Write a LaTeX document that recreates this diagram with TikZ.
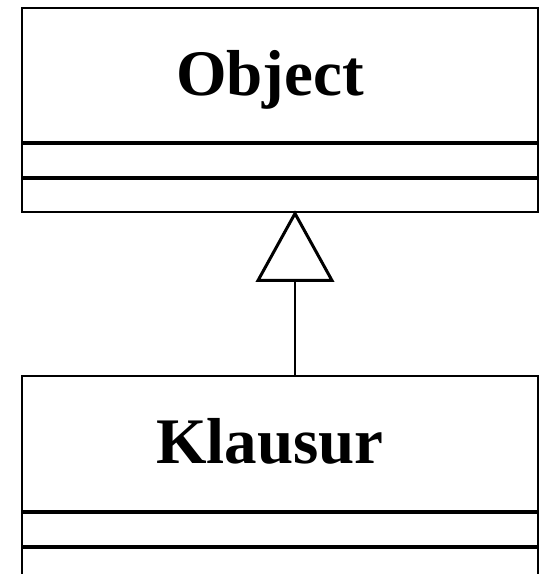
\documentclass[tikz,border=0pt]{standalone}
\usepackage{fontspec}
\setmainfont{Liberation Serif}
\tikzset{
  umlpart/.style={draw, line width=2.2pt, rectangle, inner sep=0pt, minimum width=516pt},
  classname/.style={font=\fontsize{65}{70}\selectfont\bfseries, inner sep=0pt, anchor=base},
  inherits/.style={line width=2.2pt},
  hollowhead/.style={draw, line width=3pt, line join=miter, fill=white}
}
\begin{document}
\begin{tikzpicture}[x=1pt,y=1pt]
  \useasboundingbox (0,0) rectangle (539,574);
  \clip (0,0) rectangle (539,574);
  % class Object
  \node[umlpart, minimum height=134pt] (objname) at (280,499) {};
  \node[umlpart, minimum height=33pt, anchor=north] (objattr) at (objname.south) {};
  \node[umlpart, minimum height=33pt, anchor=north] (objops) at (objattr.south) {};
  \node[classname] (objlabel) at (270,478) {Object};
  % class Klausur
  \node[umlpart, minimum height=135pt] (klname) at (280,130.5) {};
  \node[umlpart, minimum height=33pt, anchor=north] (klattr) at (klname.south) {};
  \node[umlpart, minimum height=60pt, anchor=north] (klops) at (klattr.south) {};
  \node[classname] (kllabel) at (270,110) {Klausur};
  % generalization: line with hollow triangle head
  \coordinate (apex) at (objops.south -| 295,0);
  \coordinate (base) at ([yshift=-67pt]apex);
  \draw[inherits] (klname.north -| apex) -- (base);
  \draw[hollowhead] (apex) -- ([xshift=-37pt]base) -- ([xshift=37pt]base) -- cycle;
\end{tikzpicture}
\end{document}
